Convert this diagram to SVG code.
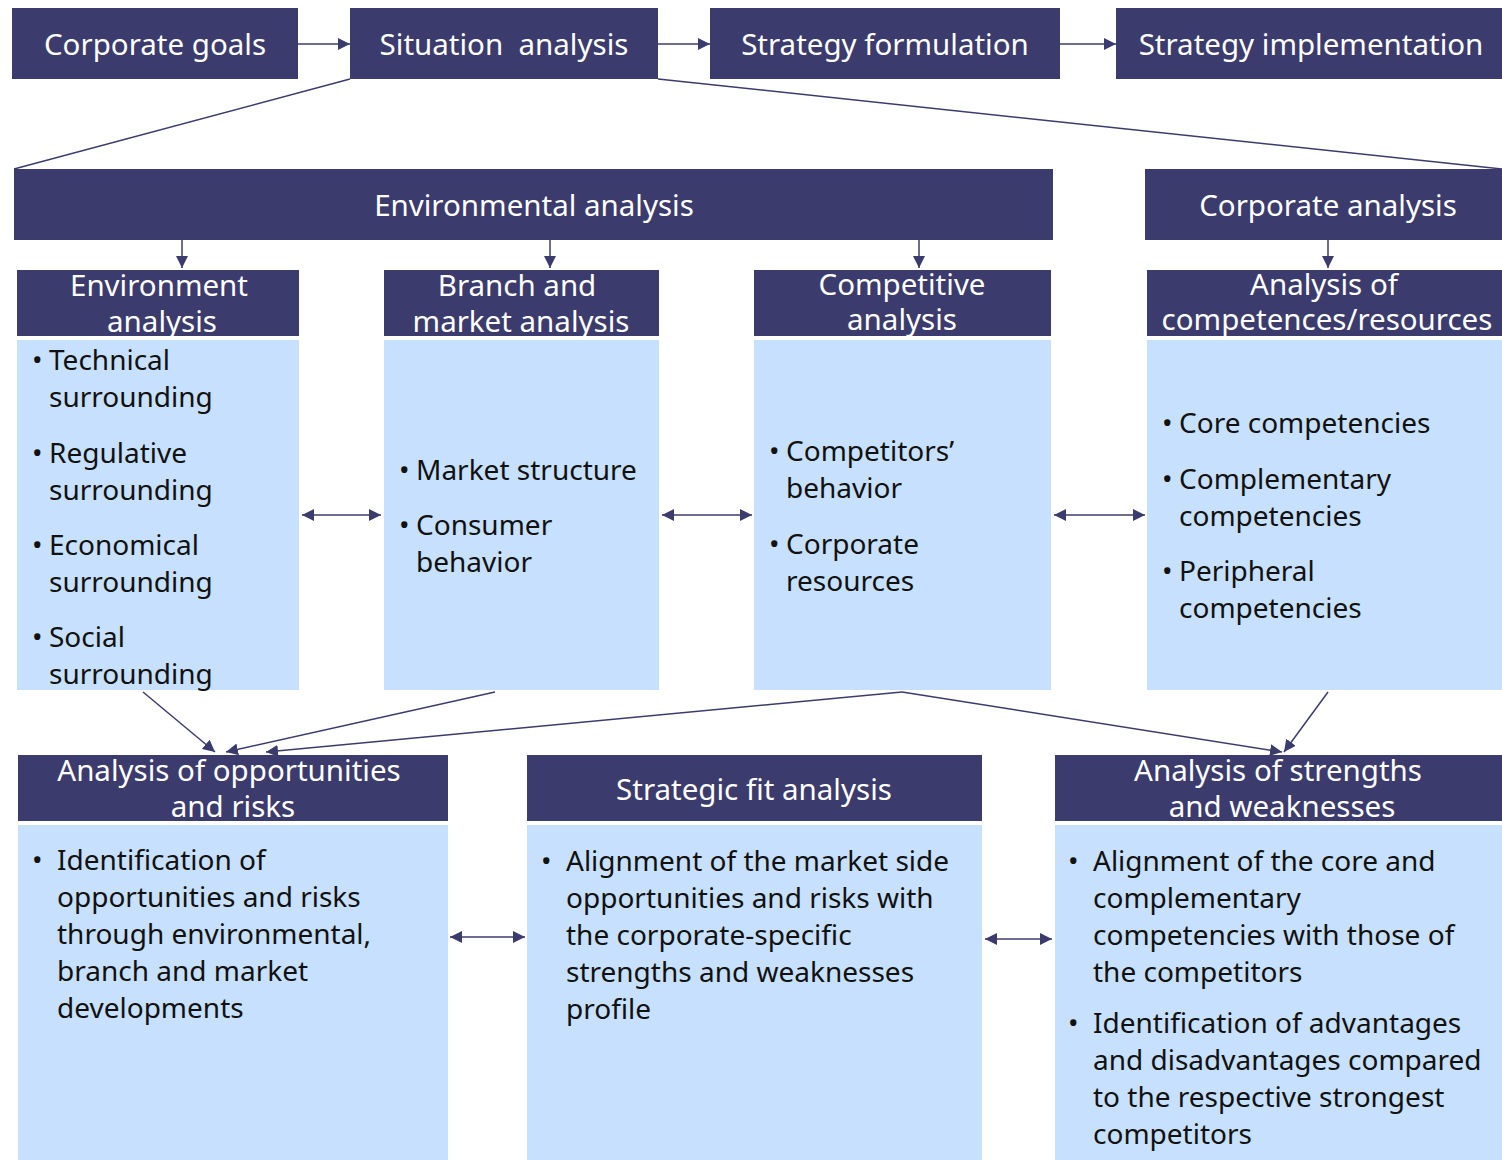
<svg xmlns="http://www.w3.org/2000/svg" width="1502" height="1160" viewBox="0 0 1502 1160">
<defs>
<marker id="ah" viewBox="0 0 10 10" refX="10" refY="5" markerWidth="12" markerHeight="12" markerUnits="userSpaceOnUse" orient="auto-start-reverse"><path d="M0,0 L10,5 L0,10 z" fill="#3C3B6E"/></marker>
<style>
.d{fill:#3C3B6E}
.l{fill:#C6E0FD}
.h{font-family:"Noto Sans","Open Sans","Liberation Sans",sans-serif;font-size:29.5px;fill:#fff;text-anchor:middle}
.b{font-family:"Noto Sans","Open Sans","Liberation Sans",sans-serif;font-size:28px;fill:#111}
.c{stroke:#3C3B6E;stroke-width:1.5;fill:none}
</style>
</defs>
<rect width="1502" height="1160" fill="#fff"/>
<g id="corporate-goals"><rect class="d" x="12" y="8" width="286" height="71"/><text class="h" x="155" y="55">Corporate goals</text></g>
<g id="situation-analysis"><rect class="d" x="350" y="8" width="308" height="71"/><text class="h" x="504" y="55" xml:space="preserve">Situation  analysis</text></g>
<g id="strategy-formulation"><rect class="d" x="710" y="8" width="350" height="71"/><text class="h" x="885" y="55">Strategy formulation</text></g>
<g id="strategy-implementation"><rect class="d" x="1116" y="8" width="386" height="71"/><text class="h" x="1311" y="55">Strategy implementation</text></g>
<g id="environmental-analysis"><rect class="d" x="14" y="169" width="1039" height="71"/><text class="h" x="534" y="216">Environmental analysis</text></g>
<g id="corporate-analysis"><rect class="d" x="1145" y="169" width="357" height="71"/><text class="h" x="1328" y="216">Corporate analysis</text></g>
<g id="environment-analysis"><rect class="d" x="17" y="270" width="282" height="66"/><rect class="l" x="17" y="340" width="282" height="350"/>
<text class="h" x="159" y="296">Environment</text><text class="h" x="162" y="332">analysis</text>
<text class="b"><tspan x="32" y="370">•</tspan><tspan x="49" y="370">Technical</tspan><tspan x="49" y="407">surrounding</tspan><tspan x="32" y="463">•</tspan><tspan x="49" y="463">Regulative</tspan><tspan x="49" y="500">surrounding</tspan><tspan x="32" y="555">•</tspan><tspan x="49" y="555">Economical</tspan><tspan x="49" y="592">surrounding</tspan><tspan x="32" y="647">•</tspan><tspan x="49" y="647">Social</tspan><tspan x="49" y="684">surrounding</tspan></text></g>
<g id="branch-market-analysis"><rect class="d" x="384" y="270" width="275" height="66"/><rect class="l" x="384" y="340" width="275" height="350"/>
<text class="h" x="517" y="296">Branch and</text><text class="h" x="521" y="332">market analysis</text>
<text class="b"><tspan x="399" y="480">•</tspan><tspan x="416" y="480">Market structure</tspan><tspan x="399" y="535">•</tspan><tspan x="416" y="535">Consumer</tspan><tspan x="416" y="572">behavior</tspan></text></g>
<g id="competitive-analysis"><rect class="d" x="754" y="270" width="297" height="66"/><rect class="l" x="754" y="340" width="297" height="350"/>
<text class="h" x="902" y="295">Competitive</text><text class="h" x="902" y="330">analysis</text>
<text class="b"><tspan x="769" y="461">•</tspan><tspan x="786" y="461">Competitors’</tspan><tspan x="786" y="498">behavior</tspan><tspan x="769" y="554">•</tspan><tspan x="786" y="554">Corporate</tspan><tspan x="786" y="591">resources</tspan></text></g>
<g id="competences-analysis"><rect class="d" x="1147" y="270" width="355" height="66"/><rect class="l" x="1147" y="340" width="355" height="350"/>
<text class="h" x="1324" y="295">Analysis of</text><text class="h" x="1327" y="330">competences/resources</text>
<text class="b"><tspan x="1162" y="433">•</tspan><tspan x="1179" y="433">Core competencies</tspan><tspan x="1162" y="489">•</tspan><tspan x="1179" y="489">Complementary</tspan><tspan x="1179" y="526">competencies</tspan><tspan x="1162" y="581">•</tspan><tspan x="1179" y="581">Peripheral</tspan><tspan x="1179" y="618">competencies</tspan></text></g>
<g id="opportunities-risks"><rect class="d" x="18" y="755" width="430" height="66"/><rect class="l" x="18" y="825" width="430" height="335"/>
<text class="h" x="229" y="781">Analysis of opportunities</text><text class="h" x="233" y="817">and risks</text>
<text class="b"><tspan x="32" y="870">•</tspan><tspan x="57" y="870">Identification of</tspan><tspan x="57" y="907">opportunities and risks</tspan><tspan x="57" y="944">through environmental,</tspan><tspan x="57" y="981">branch and market</tspan><tspan x="57" y="1018">developments</tspan></text></g>
<g id="strategic-fit"><rect class="d" x="527" y="755" width="455" height="66"/><rect class="l" x="527" y="825" width="455" height="335"/>
<text class="h" x="754" y="800">Strategic fit analysis</text>
<text class="b"><tspan x="541" y="871">•</tspan><tspan x="566" y="871">Alignment of the market side</tspan><tspan x="566" y="908">opportunities and risks with</tspan><tspan x="566" y="945">the corporate-specific</tspan><tspan x="566" y="982">strengths and weaknesses</tspan><tspan x="566" y="1019">profile</tspan></text></g>
<g id="strengths-weaknesses"><rect class="d" x="1055" y="755" width="447" height="66"/><rect class="l" x="1055" y="825" width="447" height="335"/>
<text class="h" x="1278" y="781">Analysis of strengths</text><text class="h" x="1282" y="817">and weaknesses</text>
<text class="b"><tspan x="1068" y="871">•</tspan><tspan x="1093" y="871">Alignment of the core and</tspan><tspan x="1093" y="908">complementary</tspan><tspan x="1093" y="945">competencies with those of</tspan><tspan x="1093" y="982">the competitors</tspan><tspan x="1068" y="1033">•</tspan><tspan x="1093" y="1033">Identification of advantages</tspan><tspan x="1093" y="1070">and disadvantages compared</tspan><tspan x="1093" y="1107">to the respective strongest</tspan><tspan x="1093" y="1144">competitors</tspan></text></g>
<g id="connectors">
<line class="c" x1="298" y1="44" x2="350" y2="44" marker-end="url(#ah)"/>
<line class="c" x1="658" y1="44" x2="710" y2="44" marker-end="url(#ah)"/>
<line class="c" x1="1060" y1="44" x2="1116" y2="44" marker-end="url(#ah)"/>
<line class="c" x1="350" y1="79" x2="14" y2="169"/>
<line class="c" x1="658" y1="79" x2="1502" y2="169"/>
<line class="c" x1="182" y1="240" x2="182" y2="268" marker-end="url(#ah)"/>
<line class="c" x1="550" y1="240" x2="550" y2="268" marker-end="url(#ah)"/>
<line class="c" x1="919" y1="240" x2="919" y2="268" marker-end="url(#ah)"/>
<line class="c" x1="1328" y1="240" x2="1328" y2="268" marker-end="url(#ah)"/>
<line class="c" x1="302" y1="515" x2="381" y2="515" marker-start="url(#ah)" marker-end="url(#ah)"/>
<line class="c" x1="662" y1="515" x2="752" y2="515" marker-start="url(#ah)" marker-end="url(#ah)"/>
<line class="c" x1="1054" y1="515" x2="1145" y2="515" marker-start="url(#ah)" marker-end="url(#ah)"/>
<line class="c" x1="450" y1="937" x2="525" y2="937" marker-start="url(#ah)" marker-end="url(#ah)"/>
<line class="c" x1="985" y1="939" x2="1052" y2="939" marker-start="url(#ah)" marker-end="url(#ah)"/>
<line class="c" x1="143" y1="692" x2="215" y2="752" marker-end="url(#ah)"/>
<line class="c" x1="495" y1="692" x2="226" y2="752" marker-end="url(#ah)"/>
<line class="c" x1="902" y1="692" x2="266" y2="752" marker-end="url(#ah)"/>
<line class="c" x1="902" y1="692" x2="1282" y2="752" marker-end="url(#ah)"/>
<line class="c" x1="1328" y1="692" x2="1284" y2="752" marker-end="url(#ah)"/>
</g>
</svg>
